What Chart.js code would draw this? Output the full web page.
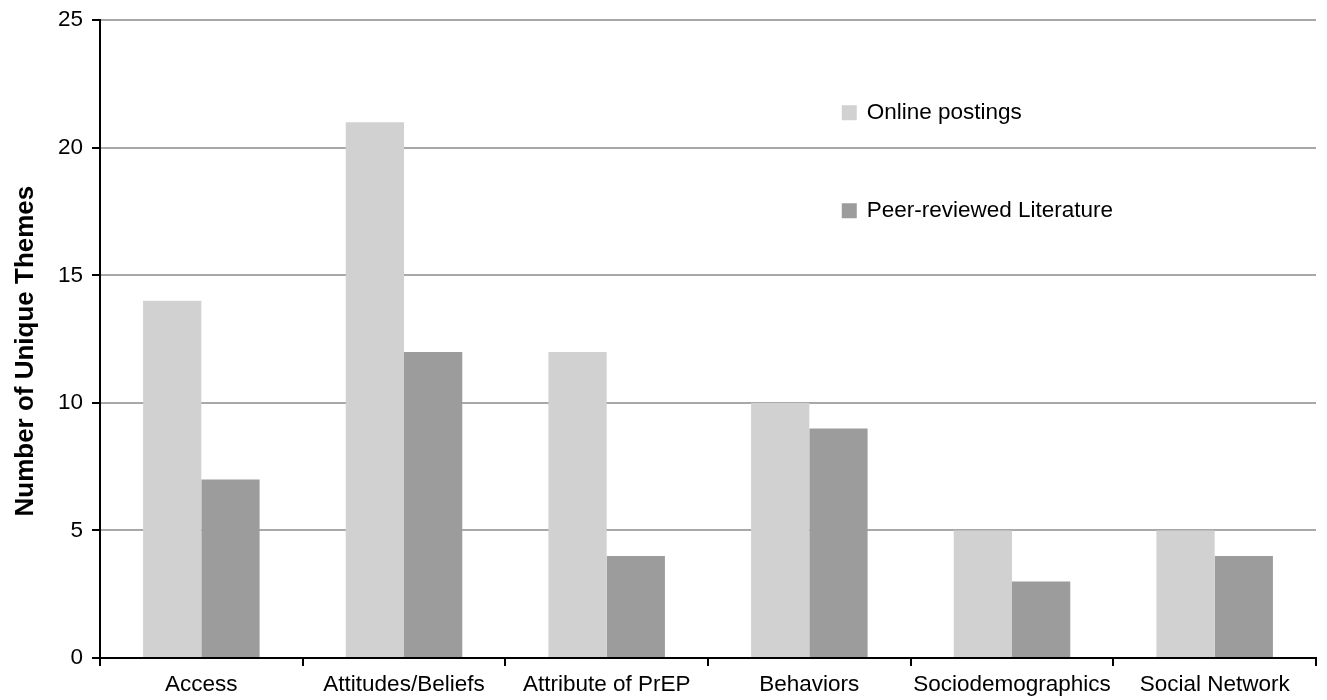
<!DOCTYPE html>
<html>
<head>
<meta charset="utf-8">
<script src="https://cdn.jsdelivr.net/npm/chart.js@4/dist/chart.umd.min.js"></script>
<style>
  html, body { margin: 0; padding: 0; background: #fff; }
  #wrap { width: 1327px; height: 700px; }
</style>
</head>
<body>
<div id="wrap"><canvas id="c" width="1327" height="700"></canvas></div>
<script>
const categories = ['Access', 'Attitudes/Beliefs', 'Attribute of PrEP', 'Behaviors', 'Sociodemographics', 'Social Network'];
const onlinePostings = [14, 21, 12, 10, 5, 5];
const peerReviewed = [7, 12, 4, 9, 3, 4];
const yTicks = [0, 5, 10, 15, 20, 25];
const yAxisTitle = 'Number of Unique Themes';

const FONT = '"Liberation Sans", Arial, sans-serif';

// Legend drawn inside the plot area, stacked vertically
const insideLegend = {
  id: 'insideLegend',
  afterDraw(chart) {
    const ctx = chart.ctx;
    const area = chart.chartArea;
    const x0 = area.left + (area.right - area.left) * 0.61;
    const rows = [area.top + 93, area.top + 191];
    ctx.save();
    ctx.font = '22.5px ' + FONT;
    ctx.textBaseline = 'middle';
    chart.data.datasets.forEach((ds, i) => {
      const y = rows[i];
      ctx.fillStyle = ds.backgroundColor;
      ctx.fillRect(x0, y - 8, 15, 15);
      ctx.fillStyle = '#000';
      ctx.fillText(ds.label, x0 + 25, y);
    });
    ctx.restore();
  }
};

// Rotated y-axis title, placed a little below the plot's vertical centre
const yTitle = {
  id: 'yTitle',
  afterDraw(chart) {
    const ctx = chart.ctx;
    const area = chart.chartArea;
    const cy = (area.top + area.bottom) / 2 + 12;
    ctx.save();
    ctx.translate(33, cy);
    ctx.rotate(-Math.PI / 2);
    ctx.font = 'bold 26px ' + FONT;
    ctx.textAlign = 'center';
    ctx.textBaseline = 'alphabetic';
    ctx.fillStyle = '#000';
    ctx.fillText(yAxisTitle, 0, 0);
    ctx.restore();
  }
};

new Chart(document.getElementById('c'), {
  type: 'bar',
  data: {
    labels: categories,
    datasets: [
      { label: 'Online postings', data: onlinePostings, backgroundColor: '#d1d1d1' },
      { label: 'Peer-reviewed Literature', data: peerReviewed, backgroundColor: '#9c9c9c' }
    ]
  },
  options: {
    responsive: false,
    animation: false,
    layout: { padding: { left: 40, right: 11, top: 20, bottom: 0 } },
    datasets: { bar: { categoryPercentage: 0.575, barPercentage: 1.0 } },
    plugins: { legend: { display: false }, tooltip: { enabled: false } },
    scales: {
      x: {
        offset: true,
        grid: { display: true, drawOnChartArea: false, offset: true, tickLength: 8, tickColor: '#000', lineWidth: 2 },
        border: { display: true, color: '#000', width: 2 },
        ticks: { color: '#000', font: { family: FONT, size: 22.5 }, maxRotation: 0, autoSkip: false, padding: 5 },
        afterFit(scale) { scale.height = 42; }
      },
      y: {
        min: 0, max: 25,
        afterBuildTicks(scale) { scale.ticks = yTicks.map(v => ({ value: v })); },
        grid: { color: '#a8a8a8', lineWidth: 2, tickLength: 8, tickColor: '#000' },
        border: { display: true, color: '#000', width: 2 },
        ticks: { color: '#000', font: { family: FONT, size: 22.5, lineHeight: 1 }, padding: 9 },
        title: { display: false },
        afterFit(scale) { scale.width = 60; }
      }
    }
  },
  plugins: [insideLegend, yTitle]
});
</script>
</body>
</html>
